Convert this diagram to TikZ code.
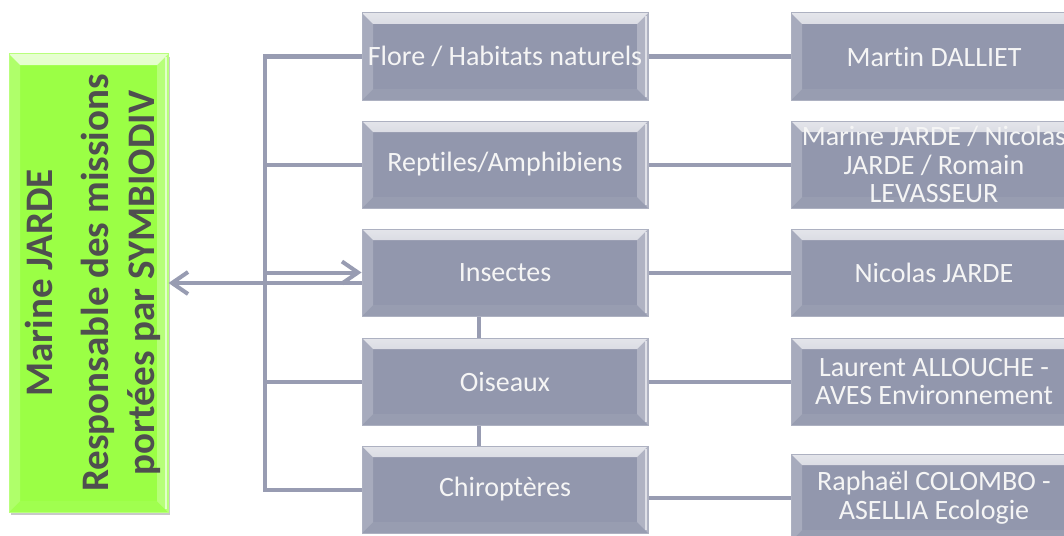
\documentclass[tikz,border=0pt]{standalone}
\usepackage{fontspec}
\setmainfont{Carlito}[Ligatures=NoCommon]
\usetikzlibrary{arrows.meta,shadows,calc}
\definecolor{boxc}{HTML}{9297AD}
\definecolor{linec}{HTML}{989CB2}
\definecolor{greenc}{HTML}{9BFF45}
\definecolor{gtext}{HTML}{4F4F4F}
\tikzset{
  bevel/.style={path picture={
    \def\pbb{path picture bounding box}
    \shade[top color=white!75!#1, bottom color=#1!88!white]
      (\pbb.north west) -- (\pbb.north east) -- ([shift={(-11pt,-11pt)}]\pbb.north east)
      -- ([shift={(11pt,-11pt)}]\pbb.north west) -- cycle;
    \fill[white,opacity=.2]
      (\pbb.north west) -- ([shift={(11pt,-11pt)}]\pbb.north west)
      -- ([shift={(11pt,11pt)}]\pbb.south west) -- (\pbb.south west) -- cycle;
    \fill[white,opacity=.28]
      (\pbb.north east) -- ([shift={(-11pt,-11pt)}]\pbb.north east)
      -- ([shift={(-11pt,11pt)}]\pbb.south east) -- (\pbb.south east) -- cycle;
    \fill[white,opacity=.6] ([shift={(-3pt,-3pt)}]\pbb.north east) rectangle ([shift={(-1.5pt,3pt)}]\pbb.south east);
    \fill[white,opacity=.06]
      (\pbb.south west) -- ([shift={(11pt,11pt)}]\pbb.south west)
      -- ([shift={(-11pt,11pt)}]\pbb.south east) -- (\pbb.south east) -- cycle;
  }},
  catbox/.style={minimum width=286pt, minimum height=87pt, inner sep=0pt,
    fill=boxc, draw=boxc!75!white, line width=1pt, bevel=boxc,
    text=white!96!black, font=\fontsize{28}{28.5}\selectfont, align=center},
  greenbox/.style={minimum width=159pt, minimum height=458pt, inner sep=0pt,
    fill=greenc, draw=greenc!70!white, line width=1pt, bevel=greenc,
    drop shadow={shadow xshift=2pt, shadow yshift=-3pt, opacity=.35, fill=black!60}},
  conn/.style={draw=linec, line width=4pt},
  barb/.style={-{Straight Barb[length=16pt,width=22pt]}}
}
\begin{document}
\begin{tikzpicture}[x=1pt,y=-1pt]
\clip (0,0) rectangle (1064,535);
\fill[white] (0,0) rectangle (1064,535);
\coordinate (bus) at (265,0);
\coordinate (vx) at (479,0);

\node[greenbox] (resp) at (88.5,283) {};

\node[catbox] (flore)    at (505,56.5)  {Flore / Habitats naturels};
\node[catbox] (reptiles) at (505,164.5) {Reptiles/Amphibiens};
\node[catbox] (insectes) at (505,272.5) {Insectes};
\node[catbox] (oiseaux)  at (505,381.5) {Oiseaux};
\node[catbox] (chiro)    at (505,489.5) {Chiroptères};

\node[catbox] (martin)   at (934,56.5)  {Martin DALLIET};
\node[catbox] (marine)   at (934,164.5) {Marine JARDE / Nicolas\\JARDE / Romain\\LEVASSEUR};
\node[catbox] (nicolas)  at (934,272.5) {Nicolas JARDE};
\node[catbox] (laurent)  at (934,381.5) {Laurent ALLOUCHE -\\AVES Environnement};
\node[catbox] (raphael)  at (934,497.5) {Raphaël COLOMBO -\\ASELLIA Ecologie};

\node[rotate=90, text=gtext, font=\bfseries\fontsize{39}{46}\selectfont, align=center, inner sep=0pt]
  (resptext) at ([xshift=4pt]resp.center) {Marine JARDE\\[10pt]Responsable des missions\\portées par SYMBIODIV};

% vertical links between category boxes
\draw[conn] (insectes.south -| vx) -- (oiseaux.north -| vx);
\draw[conn] (oiseaux.south -| vx) -- (chiro.north -| vx);

% bus on the left
\draw[conn] (flore.west) -- (flore.west -| bus) -- (chiro.west -| bus) -- (chiro.west);
\draw[conn] (reptiles.west) -- (reptiles.west -| bus);
\draw[conn] (oiseaux.west) -- (oiseaux.west -| bus);
\draw[conn,barb] (insectes.west -| bus) -- (insectes.west);
\draw[conn,barb] (resp.east -| insectes.west) -- (resp.east);

% right connectors
\draw[conn] (flore.east) -- (martin.west);
\draw[conn] (reptiles.east) -- (marine.west);
\draw[conn] (insectes.east) -- (nicolas.west);
\draw[conn] (oiseaux.east) -- (laurent.west);
\draw[conn] (raphael.west -| chiro.east) -- (raphael.west);
\end{tikzpicture}
\end{document}
